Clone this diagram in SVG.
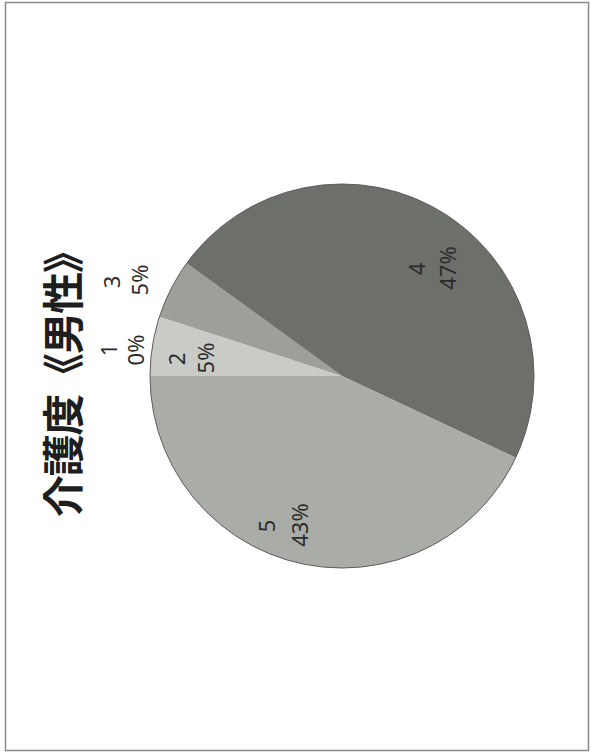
<svg xmlns="http://www.w3.org/2000/svg" width="591" height="753" viewBox="0 0 591 753">
<style>
.lbl{font-family:"Noto Sans","Open Sans","Liberation Sans",sans-serif;font-size:22px;fill:#2a2a2a;text-anchor:middle;dominant-baseline:central}
.title{font-family:"Noto Sans CJK JP","Noto Sans CJK SC",sans-serif;font-size:42px;font-weight:bold;fill:#1e1e1e;text-anchor:middle;dominant-baseline:central}
</style>
<rect x="0" y="0" width="591" height="753" fill="#ffffff"/>
<rect x="5.5" y="2.5" width="583" height="748" fill="none" stroke="#8a8a8a" stroke-width="1.5"/>
<g id="title"><text class="title" transform="translate(60,374) rotate(-90)" textLength="286" lengthAdjust="spacing">介護度《男性》</text></g>
<g id="pie">
<g id="slice2"><path d="M342,376 L150,376 A192,192 0 0 1 159.40,316.67 Z" fill="#c8cbc6"/></g>
<g id="slice3"><path d="M342,376 L159.40,316.67 A192,192 0 0 1 186.67,263.14 Z" fill="#9c9f9a"/></g>
<g id="slice4"><path d="M342,376 L186.67,263.14 A192,192 0 0 1 515.73,457.75 Z" fill="#6d6f6a"/></g>
<g id="slice5"><path d="M342,376 L515.73,457.75 A192,192 0 0 1 150,376 Z" fill="#a9aca7"/></g>
<circle cx="342" cy="376" r="192" fill="none" stroke="#5c5d5a" stroke-width="1"/>
</g>
<g id="label1"><text class="lbl" transform="translate(108,350) rotate(-90)">1</text><text class="lbl" transform="translate(135,350) rotate(-90)">0%</text></g>
<g id="label3"><text class="lbl" transform="translate(111,282) rotate(-90)">3</text><text class="lbl" transform="translate(139,280) rotate(-90)">5%</text></g>
<g id="label2"><text class="lbl" transform="translate(176,359) rotate(-90)">2</text><text class="lbl" transform="translate(205,358) rotate(-90)">5%</text></g>
<g id="label4"><text class="lbl" transform="translate(416,269) rotate(-90)">4</text><text class="lbl" transform="translate(447,268) rotate(-90)">47%</text></g>
<g id="label5"><text class="lbl" transform="translate(266,526) rotate(-90)">5</text><text class="lbl" transform="translate(299,525) rotate(-90)">43%</text></g>
</svg>
